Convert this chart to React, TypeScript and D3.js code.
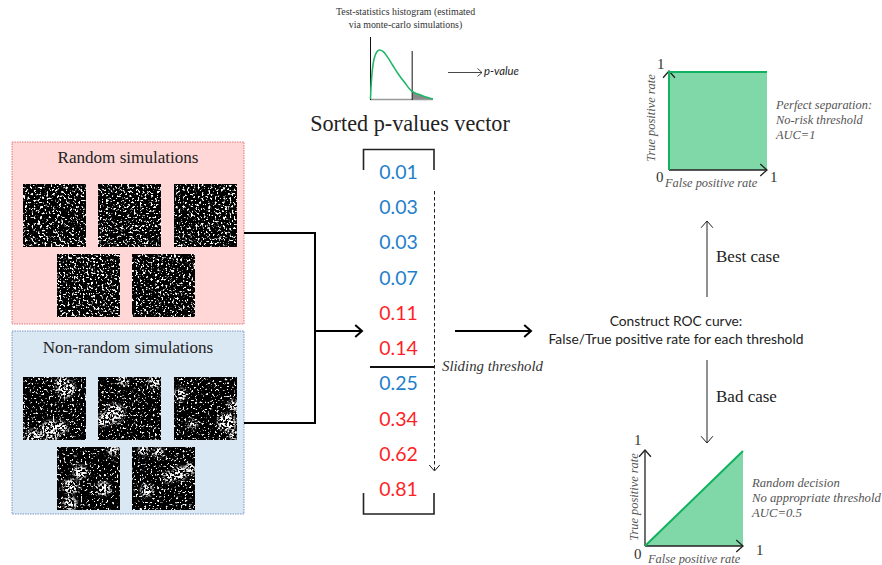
import React from "react";
import * as d3 from "d3";

const W = 882, H = 565;
const SERIF = "'Liberation Serif', serif";
const SANS = "Lato, 'Open Sans', sans-serif";

// Sorted p-values and whether each one came from a random (red) or non-random (blue) simulation
const pValues = ["0.01", "0.03", "0.03", "0.07", "0.11", "0.14", "0.25", "0.34", "0.62", "0.81"];
const pClasses = ["n", "n", "n", "n", "r", "r", "n", "r", "r", "r"];

// Test-statistic density curve
const curveX = [0, 0.01, 0.03, 0.06, 0.1, 0.14, 0.2, 0.27, 0.35, 0.45, 0.55, 0.66, 0.76, 0.86, 0.94, 1];
const curveY = [0, 0.28, 0.6, 0.83, 0.96, 1, 0.97, 0.86, 0.7, 0.5, 0.33, 0.16, 0.1, 0.05, 0.02, 0];
const thresholdX = 0.67;

// ROC curves
const perfectRocX = [0, 0, 1];
const perfectRocY = [0, 1, 1];
const randomRocX = [0, 1];
const randomRocY = [0, 1];

// White cluster centres in the non-random panels (panel fractions: x, y, radius)
const clusters1 = [[0.68, 0.18, 0.15], [0.62, 0.08, 0.1], [0.44, 0.85, 0.16], [0.17, 0.96, 0.13], [0.62, 0.8, 0.09]];
const clusters2 = [[0.27, 0.58, 0.15], [0.09, 0.68, 0.11], [0.9, 0.08, 0.1], [0.4, 0.05, 0.08]];
const clusters3 = [[0.1, 0.28, 0.1], [0.84, 0.72, 0.15], [0.95, 0.45, 0.09], [0.3, 0.75, 0.07], [0.95, 0.92, 0.08]];
const clusters4 = [[0.37, 0.4, 0.11], [0.21, 0.63, 0.12], [0.74, 0.66, 0.11], [0.21, 0.9, 0.11], [0.9, 0.05, 0.09]];
const clusters5 = [[0.76, 0.42, 0.11], [0.58, 0.48, 0.09], [0.92, 0.34, 0.09], [0.23, 0.69, 0.1], [0.18, 0.05, 0.08], [0.42, 0.08, 0.08]];
const nonRandomClusters = [clusters1, clusters2, clusters3, clusters4, clusters5];

const panelRow1X = [23, 98, 174];
const panelRow2X = [57, 132];
const seeds = [3, 11, 17, 23, 31, 41, 47, 59, 67, 73];

function Arrow({ x1, y1, x2, y2, w = 2, head = 7, color = "#000", dash }: any) {
  const a = Math.atan2(y2 - y1, x2 - x1);
  const p = (s: number) => [x2 - head * Math.cos(a + s), y2 - head * Math.sin(a + s)];
  const [ax, ay] = p(0.72), [bx, by] = p(-0.72);
  return (
    <g stroke={color} strokeWidth={w} fill="none">
      <line x1={x1} y1={y1} x2={x2} y2={y2} strokeDasharray={dash} />
      <path d={`M${ax},${ay}L${x2},${y2}L${bx},${by}`} />
    </g>
  );
}

function NoiseFilter({ id, seed, cut, gain = 9 }: any) {
  return (
    <filter id={id} x="0" y="0" width="1" height="1" colorInterpolationFilters="sRGB">
      <feTurbulence type="fractalNoise" baseFrequency="0.47" numOctaves={2} seed={seed} />
      <feColorMatrix type="matrix" values={`${gain} 0 0 0 ${-gain * cut} ${gain} 0 0 0 ${-gain * cut} ${gain} 0 0 0 ${-gain * cut} 0 0 0 0 1`} />
      <feGaussianBlur stdDeviation="0.4" />
    </filter>
  );
}

function Panel({ x, y, i, clusters }: any) {
  const s = 63;
  return (
    <g>
      <rect x={x} y={y} width={s} height={s} rx={1.5} fill="#000" />
      <rect x={x} y={y} width={s} height={s} rx={1.5} filter={`url(#speck${i})`} />
      {clusters && (
        <>
          <mask id={`mask${i}`} maskUnits="userSpaceOnUse" x={x} y={y} width={s} height={s}>
            <g fill="#fff" filter="url(#soft)">
              {clusters.map((c: number[], k: number) => (
                <circle key={k} cx={x + c[0] * s} cy={y + c[1] * s} r={c[2] * s} />
              ))}
            </g>
          </mask>
          <g mask={`url(#mask${i})`}>
            <rect x={x} y={y} width={s} height={s} filter={`url(#dense${i})`} />
          </g>
        </>
      )}
    </g>
  );
}

function Roc({ ox, oy, size, xs, ys, closeTo, labels, caption, capX, capY, capSize, yLabelX, xLabelX, xLabelY, yLabelY }: any) {
  const x = d3.scaleLinear().domain([0, 1]).range([ox, ox + size.w]);
  const y = d3.scaleLinear().domain([0, 1]).range([oy, oy - size.h]);
  const pts: [number, number][] = xs.map((v: number, i: number) => [v, ys[i]]);
  const area = d3.area<[number, number]>().x(d => x(d[0])).y0(y(0)).y1(d => y(d[1]));
  const line = d3.line<[number, number]>().x(d => x(d[0])).y(d => y(d[1]));
  const areaPts = closeTo ? pts.slice(1) : pts;
  return (
    <g>
      <path d={area(areaPts)!} fill="#80d8a8" />
      <Arrow x1={ox} y1={oy} x2={ox} y2={oy - size.h - 1} w={1.3} head={9} color="#222" />
      <Arrow x1={ox} y1={oy} x2={ox + size.w} y2={oy} w={1.3} head={9} color="#222" />
      <path d={line(pts)!} fill="none" stroke="#10b25e" strokeWidth={2} />
      <g fontFamily={SERIF} fontSize={15} fill="#333">
        {labels.map((l: any, i: number) => <text key={i} x={l[0]} y={l[1]}>{l[2]}</text>)}
      </g>
      <g fontFamily={SERIF} fontStyle="italic" fontSize={12.4} fill="#555">
        <text x={xLabelX} y={xLabelY}>False positive rate</text>
        <text transform={`translate(${yLabelX},${yLabelY}) rotate(-90)`} textAnchor="middle">True positive rate</text>
        {caption.map((c: string, i: number) => <text key={i} x={capX} y={capY + i * 15} fontSize={capSize}>{c}</text>)}
      </g>
    </g>
  );
}

export default function App() {
  const yP = d3.scalePoint<number>().domain(d3.range(pValues.length)).range([179, 496]);
  const hx = d3.scaleLinear().domain([0, 1]).range([370.5, 433]);
  const hy = d3.scaleLinear().domain([0, 1]).range([99, 50]);
  const curvePts: [number, number][] = curveX.map((v, i) => [v, curveY[i]]);
  const curve = d3.line<[number, number]>().x(d => hx(d[0])).y(d => hy(d[1])).curve(d3.curveCatmullRom);
  const tail = d3.area<[number, number]>().x(d => hx(d[0])).y0(hy(0)).y1(d => hy(d[1])).curve(d3.curveCatmullRom);
  const tailPts = curvePts.filter(d => d[0] >= thresholdX);
  const thresholdY = 0.155;
  const tailAll: [number, number][] = [[thresholdX, thresholdY], ...tailPts];

  return (
    <svg width={W} height={H} viewBox={`0 0 ${W} ${H}`} style={{ position: "fixed", left: 0, top: 0, background: "#fff" }}>
      <defs>
        <filter id="soft" x="-30%" y="-30%" width="160%" height="160%"><feGaussianBlur stdDeviation="1.6" /></filter>
        {seeds.map((s, i) => <NoiseFilter key={i} id={`speck${i}`} seed={s} cut={i < 5 ? 0.565 : 0.6} />)}
        {seeds.map((s, i) => <NoiseFilter key={"d" + i} id={`dense${i}`} seed={s + 100} cut={0.44} />)}
      </defs>

      {/* Simulation boxes */}
      <rect x={12} y={142} width={232} height={182} fill="#ffd7d7" stroke="#e05a5a" strokeWidth={0.8} strokeDasharray="1.5 1" />
      <rect x={12} y={331} width={232} height={183} fill="#dae8f4" stroke="#5f82b5" strokeWidth={0.8} strokeDasharray="1.5 1" />
      <text x={128} y={163} textAnchor="middle" fontFamily={SERIF} fontSize={17.1} fill="#222">Random simulations</text>
      <text x={128} y={353} textAnchor="middle" fontFamily={SERIF} fontSize={17.1} fill="#222">Non-random simulations</text>

      {panelRow1X.map((x, i) => <Panel key={i} x={x} y={184} i={i} />)}
      {panelRow2X.map((x, i) => <Panel key={i} x={x} y={254} i={i + 3} />)}
      {panelRow1X.map((x, i) => <Panel key={i} x={x} y={377} i={i + 5} clusters={nonRandomClusters[i]} />)}
      {panelRow2X.map((x, i) => <Panel key={i} x={x} y={447} i={i + 8} clusters={nonRandomClusters[i + 3]} />)}

      {/* Connectors */}
      <path d="M244,233H315V423H244" fill="none" stroke="#000" strokeWidth={2} />
      <Arrow x1={315} y1={331} x2={362} y2={331} w={2} head={9} />
      <Arrow x1={455} y1={331} x2={531} y2={331} w={2} head={9} />

      {/* Histogram */}
      <text x={405.5} y={15} textAnchor="middle" fontFamily={SERIF} fontSize={9.9} fill="#333">Test-statistics histogram (estimated</text>
      <text x={405.5} y={28} textAnchor="middle" fontFamily={SERIF} fontSize={9.9} fill="#333">via monte-carlo simulations)</text>
      <path d={tail(tailAll)!} fill="#8a8a8a" />
      <line x1={370} y1={99.5} x2={433} y2={99.5} stroke="#999" strokeWidth={1.3} />
      <line x1={370.5} y1={37} x2={370.5} y2={100} stroke="#111" strokeWidth={1} />
      <line x1={hx(thresholdX) - 0.2} y1={51} x2={hx(thresholdX) - 0.2} y2={100} stroke="#111" strokeWidth={1} />
      <path d={curve(curvePts)!} fill="none" stroke="#1fb86a" strokeWidth={1.6} />
      <Arrow x1={448} y1={72.5} x2={482} y2={72.5} w={0.9} head={6} color="#333" />
      <text x={484} y={75} fontFamily={SANS} fontStyle="italic" fontSize={11.3} fill="#222">p-value</text>
      <text x={410} y={131} textAnchor="middle" fontFamily={SERIF} fontSize={22.2} fill="#222">Sorted p-values vector</text>

      {/* P-value vector */}
      <path d="M363.5,170V149.5H434V170" fill="none" stroke="#222" strokeWidth={1.6} />
      <path d="M363.5,493V514H434V493" fill="none" stroke="#222" strokeWidth={1.6} />
      {pValues.map((v, i) => (
        <text key={i} x={398.5} y={yP(i)} textAnchor="middle" fontFamily={SANS} fontSize={19.5} fill={pClasses[i] === "r" ? "#ff1f26" : "#1f7fcb"}>{v}</text>
      ))}
      <line x1={370} y1={367} x2={434} y2={367} stroke="#111" strokeWidth={2.2} />
      <Arrow x1={434.5} y1={191} x2={434.5} y2={471} w={1} head={8} color="#222" dash="3.5 2.5" />
      <text x={442} y={371} fontFamily={SERIF} fontStyle="italic" fontSize={14.8} fill="#333">Sliding threshold</text>

      {/* ROC step */}
      <text x={676} y={326} textAnchor="middle" fontFamily={SANS} fontSize={13.8} fill="#222">Construct ROC curve:</text>
      <text x={676} y={344} textAnchor="middle" fontFamily={SANS} fontSize={13.8} fill="#222">False/True positive rate for each threshold</text>
      <Arrow x1={707} y1={297} x2={707} y2={221} w={1} head={9} color="#222" />
      <Arrow x1={707} y1={360} x2={707} y2={443} w={1} head={9} color="#222" />
      <text x={716} y={262} fontFamily={SERIF} fontSize={17} fill="#222">Best case</text>
      <text x={716} y={402} fontFamily={SERIF} fontSize={17} fill="#222">Bad case</text>

      <Roc ox={669} oy={170} size={{ w: 98, h: 98 }} xs={perfectRocX} ys={perfectRocY} closeTo
        labels={[[657, 69, "1"], [656, 182, "0"], [770, 182, "1"]]}
        caption={["Perfect separation:", "No-risk threshold", "AUC=1"]} capX={776} capY={109} capSize={12.4}
        xLabelX={665} xLabelY={187} yLabelX={655} yLabelY={118} />
      <Roc ox={645} oy={546} size={{ w: 98, h: 95 }} xs={randomRocX} ys={randomRocY}
        labels={[[634, 445, "1"], [634, 559, "0"], [756, 555, "1"]]}
        caption={["Random decision", "No appropriate threshold", "AUC=0.5"]} capX={752} capY={487} capSize={12.7}
        xLabelX={648} xLabelY={563} yLabelX={638} yLabelY={497} />
    </svg>
  );
}
